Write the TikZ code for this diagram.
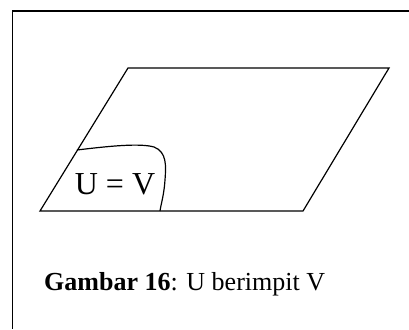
\documentclass[tikz,border=0pt]{standalone}
\usepackage{fontspec}
\setmainfont{Liberation Serif}
\begin{document}
\begin{tikzpicture}[x=1pt,y=-1pt]
  \useasboundingbox (0,0) rectangle (409,329);
  \fill[white] (0,0) rectangle (409,329);
  % kotak gambar
  \draw[line width=1.5pt] (409,11) -- (12.5,11) -- (12.5,329);
  % bidang
  \coordinate (pa) at (40,211);
  \coordinate (pb) at (303,211);
  \coordinate (pc) at (389,68);
  \coordinate (pd) at (128,68);
  \draw[line width=1.2pt, line join=miter] (pa) -- (pb) -- (pc) -- (pd) -- cycle;
  % himpunan U = V
  \coordinate (ua) at (77,150);
  \coordinate (ub) at (160,211);
  \draw[line width=1.2pt] (ua) .. controls (110,146) and (140,143) .. (154,147)
    .. controls (167,152) and (166,166) .. (165,180)
    .. controls (164,195) and (161,204) .. (ub);
  \node[font=\fontsize{32}{32}\selectfont, inner sep=0pt] (uv) at (115,184) {U = V};
  \node[anchor=base west, font=\fontsize{26}{26}\selectfont, inner sep=0pt] (cap) at (44,290)
    {\textbf{Gambar 16}: U berimpit V};
\end{tikzpicture}
\end{document}
